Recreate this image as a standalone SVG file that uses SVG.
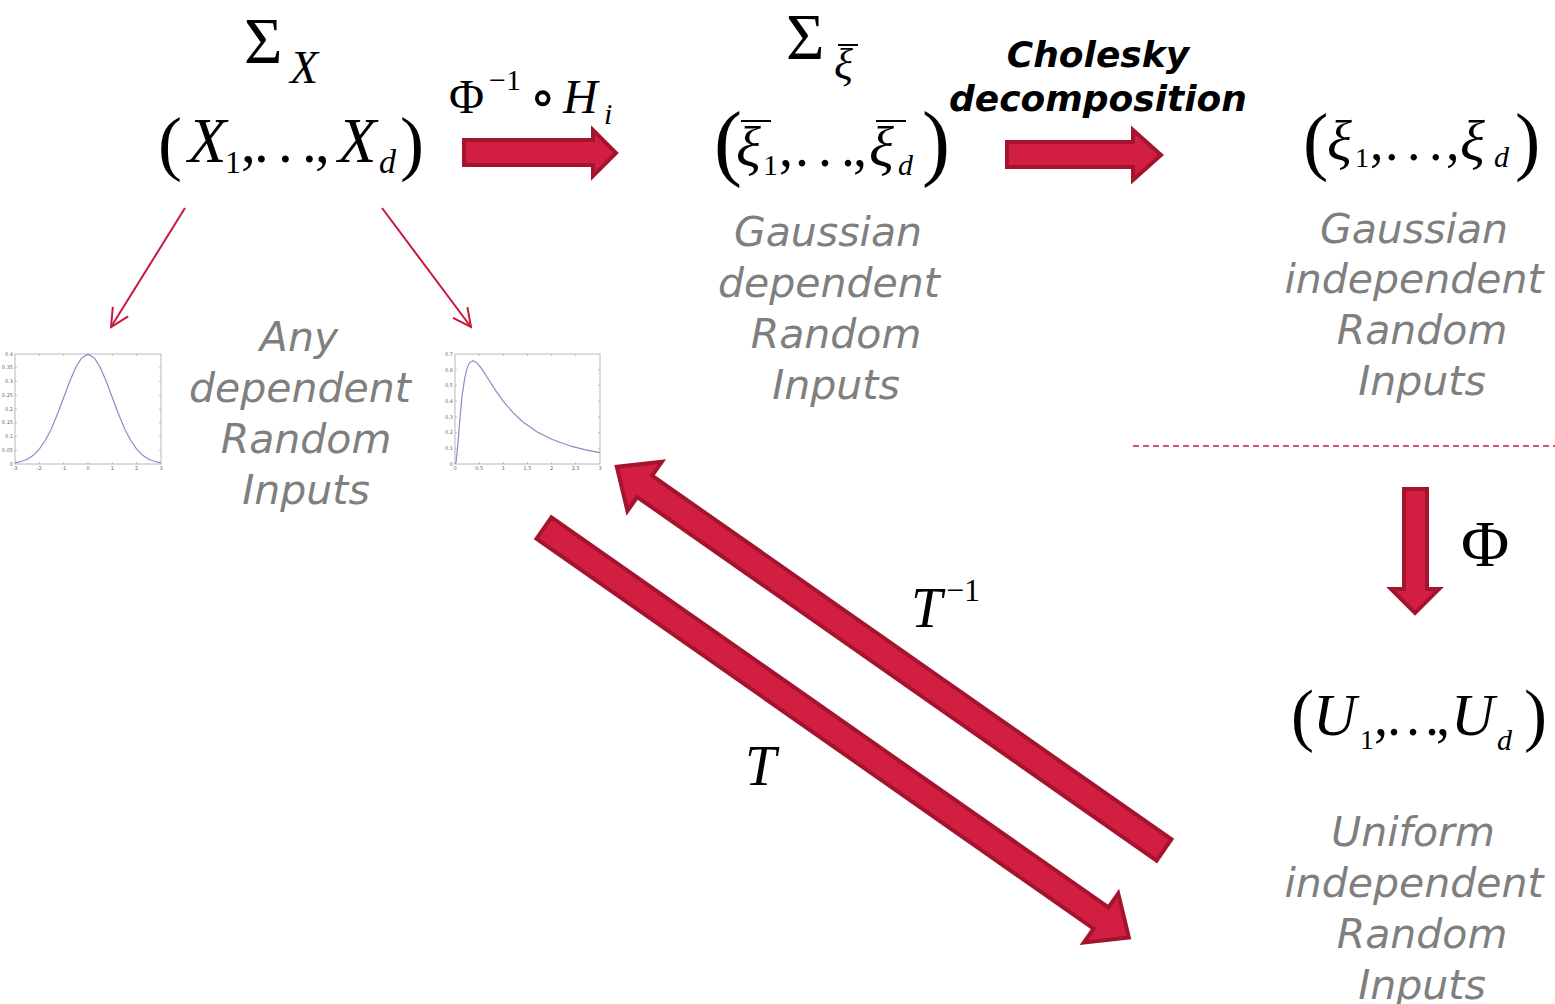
<svg xmlns="http://www.w3.org/2000/svg" width="1555" height="1004" viewBox="0 0 1555 1004">
<style>
.m{font-family:"Liberation Serif","DejaVu Serif",serif;fill:#000}
.i{font-style:italic}
.g{font-family:"DejaVu Sans","Verdana",sans-serif;font-style:oblique;font-size:41px;fill:#7f7f7f;text-anchor:middle}
.b{font-family:"DejaVu Sans","Verdana",sans-serif;font-style:oblique;font-weight:bold;font-size:36px;fill:#000;text-anchor:middle}
.blk{fill:#d21e40;stroke:#a5142f;stroke-width:4;stroke-linejoin:miter}
.thin{stroke:#c8193c;stroke-width:2;fill:none}
.bar{stroke:#000;stroke-width:2}
.frame{fill:#fff;stroke:#b8b8b8;stroke-width:1}
.curve{fill:none;stroke:#8c8cc8;stroke-width:1.2}
.tk{font-family:"DejaVu Sans",sans-serif;font-size:5px;fill:#666}
.tick{stroke:#999;stroke-width:0.6}
</style>
<defs>
<marker id="open" viewBox="-22 -12 24 24" refX="0" refY="0" markerWidth="24" markerHeight="24" markerUnits="userSpaceOnUse" orient="auto">
<path d="M-18,-9 L0,0 L-18,9" fill="none" stroke="#c8193c" stroke-width="2"/>
</marker>
</defs>
<rect width="1555" height="1004" fill="#fff"/>

<g id="connectors">
<polygon class="blk" points="464,140 593,140 593,130 616,153 593,176 593,165 464,165"/>
<polygon class="blk" points="1007,142 1133,142 1133,130 1161,155 1133,180 1133,167 1007,167"/>
<polygon class="blk" points="1404,489 1427,489 1427,589 1439,589 1415,613 1391,589 1404,589"/>
<g transform="translate(1164,850) rotate(215)">
<polygon class="blk" points="0,-13 634,-13 634,-30 668,0 634,30 634,13 0,13"/>
</g>
<g transform="translate(544,528) rotate(35)">
<polygon class="blk" points="0,-13 680,-13 680,-30 714,0 680,30 680,13 0,13"/>
</g>
<line class="thin" x1="185" y1="208" x2="111" y2="327" marker-end="url(#open)"/>
<line class="thin" x1="382" y1="208" x2="471" y2="327" marker-end="url(#open)"/>
<line x1="1133" y1="446" x2="1555" y2="446" stroke="#c8193c" stroke-width="1.5" stroke-dasharray="6,4"/>
</g>

<g id="label-phiH">
<text class="m" font-size="48" x="449" y="113">Φ</text>
<text class="m" font-size="30" x="489" y="90">−1</text>
<text class="m" font-size="56" x="529" y="116" font-family="DejaVu Serif">∘</text>
<text class="m i" font-size="48" x="563" y="113">H</text>
<text class="m i" font-size="30" x="604" y="124">i</text>
</g>

<g id="label-cholesky">
<text class="b" x="1098" y="67">Cholesky</text>
<text class="b" x="1098" y="111">decomposition</text>
</g>

<g id="label-phi">
<text class="m" font-size="66" x="1461" y="566">Φ</text>
</g>

<g id="label-Tinv">
<text class="m i" font-size="56" x="911" y="627">T</text>
<text class="m" font-size="32" x="946" y="601">−1</text>
</g>

<g id="label-T">
<text class="m i" font-size="56" x="745" y="785">T</text>
</g>

<g id="node-X">
<text class="m" font-size="66" x="244" y="63">Σ</text>
<text class="m i" font-size="46" x="290" y="83">X</text>
<text class="m" font-size="72" x="158" y="167">(</text>
<text class="m i" font-size="63" x="188" y="162">X</text>
<text class="m" font-size="32" x="225" y="173">1</text>
<text class="m" font-size="59" x="241 254 278 302 315" y="162">,...,</text>
<text class="m i" font-size="63" x="338" y="162">X</text>
<text class="m i" font-size="34" x="379" y="173">d</text>
<text class="m" font-size="72" x="400" y="167">)</text>
</g>

<g id="node-any">
<rect class="frame" x="15" y="354" width="146" height="110"/>
<path class="tick" d="M15,450.25h2M15,436.5h2M15,422.75h2M15,409h2M15,395.25h2M15,381.5h2M15,367.75h2M39.3,464v-2M63.7,464v-2M88,464v-2M112.3,464v-2M136.7,464v-2M161,450.25h-2M161,436.5h-2M161,422.75h-2M161,409h-2M161,395.25h-2M161,381.5h-2M161,367.75h-2M39.3,354v2M63.7,354v2M88,354v2M112.3,354v2M136.7,354v2"/>
<g class="tk" text-anchor="end">
<text x="13" y="466">0</text><text x="13" y="452">0.05</text><text x="13" y="438">0.1</text><text x="13" y="424">0.15</text><text x="13" y="411">0.2</text><text x="13" y="397">0.25</text><text x="13" y="383">0.3</text><text x="13" y="369">0.35</text><text x="13" y="356">0.4</text>
</g>
<g class="tk" text-anchor="middle">
<text x="15" y="470">-3</text><text x="39.3" y="470">-2</text><text x="63.7" y="470">-1</text><text x="88" y="470">0</text><text x="112.3" y="470">1</text><text x="136.7" y="470">2</text><text x="161" y="470">3</text>
</g>
<polyline class="curve" points="15,462.8 21,461.5 27.2,459.2 33.3,455.3 39.3,449.2 45.4,440.3 51.5,428.4 57.6,413.8 63.7,397.5 69.8,381.2 75.8,367.2 81.9,357.7 88,354.3 94.1,357.7 100.2,367.2 106.2,381.2 112.3,397.5 118.4,413.8 124.5,428.4 130.6,440.3 136.7,449.2 142.7,455.3 148.8,459.2 155,461.5 161,462.8"/>

<rect class="frame" x="455" y="354" width="145" height="110"/>
<path class="tick" d="M455,448.3h2M455,432.6h2M455,416.9h2M455,401.1h2M455,385.4h2M455,369.7h2M479.2,464v-2M503.3,464v-2M527.5,464v-2M551.7,464v-2M575.8,464v-2M600,448.3h-2M600,432.6h-2M600,416.9h-2M600,401.1h-2M600,385.4h-2M600,369.7h-2M479.2,354v2M503.3,354v2M527.5,354v2M551.7,354v2M575.8,354v2"/>
<g class="tk" text-anchor="end">
<text x="453" y="466">0</text><text x="453" y="450">0.1</text><text x="453" y="434">0.2</text><text x="453" y="419">0.3</text><text x="453" y="403">0.4</text><text x="453" y="387">0.5</text><text x="453" y="372">0.6</text><text x="453" y="356">0.7</text>
</g>
<g class="tk" text-anchor="middle">
<text x="455" y="470">0</text><text x="479.2" y="470">0.5</text><text x="503.3" y="470">1</text><text x="527.5" y="470">1.5</text><text x="551.7" y="470">2</text><text x="575.8" y="470">2.5</text><text x="600" y="470">3</text>
</g>
<polyline class="curve" points="455,464 456,462.5 457.4,449.9 459.8,419.8 462.2,394.9 464.7,378.2 467.1,368.1 469.5,362.8 472.9,360.6 476.7,362.7 481.6,368.7 488.8,380 496.1,391.2 503.3,401.3 513,412.6 522.7,421.7 537.2,432 551.7,439.3 571,446.2 585.5,449.8 600,452.6"/>

<text class="g" x="299" y="351">Any</text>
<text class="g" x="300" y="402">dependent</text>
<text class="g" x="306" y="453">Random</text>
<text class="g" x="306" y="504">Inputs</text>
</g>

<g id="node-xibar">
<text class="m" font-size="66" x="786" y="59">Σ</text>
<line class="bar" x1="838" y1="45" x2="858" y2="45"/>
<text class="m i" font-size="44" x="834" y="79">ξ</text>
<text class="m" font-size="84" x="714" y="170">(</text>
<line class="bar" x1="741" y1="121" x2="771" y2="121"/>
<text class="m i" font-size="58" x="736" y="166">ξ</text>
<text class="m" font-size="30" x="763" y="175">1</text>
<text class="m" font-size="56" x="779 795 818 841 853" y="166">,...,</text>
<line class="bar" x1="876" y1="121" x2="906" y2="121"/>
<text class="m i" font-size="58" x="869" y="166">ξ</text>
<text class="m i" font-size="30" x="898" y="175">d</text>
<text class="m" font-size="84" x="922" y="170">)</text>
<text class="g" x="828" y="246">Gaussian</text>
<text class="g" x="829" y="297">dependent</text>
<text class="g" x="836" y="348">Random</text>
<text class="g" x="836" y="399">Inputs</text>
</g>

<g id="node-xi">
<text class="m" font-size="76" x="1303" y="166">(</text>
<text class="m i" font-size="58" x="1327" y="160">ξ</text>
<text class="m" font-size="28" x="1355" y="167">1</text>
<text class="m" font-size="54" x="1370 1385 1407 1429 1446" y="160">,...,</text>
<text class="m i" font-size="58" x="1460" y="160">ξ</text>
<text class="m i" font-size="30" x="1494" y="167">d</text>
<text class="m" font-size="76" x="1515" y="166">)</text>
<text class="g" x="1414" y="243">Gaussian</text>
<text class="g" x="1414" y="293">independent</text>
<text class="g" x="1422" y="344">Random</text>
<text class="g" x="1422" y="395">Inputs</text>
</g>

<g id="node-U">
<text class="m" font-size="69" x="1291" y="738">(</text>
<text class="m i" font-size="60" x="1313" y="735">U</text>
<text class="m" font-size="28" x="1360" y="749">1</text>
<text class="m" font-size="56" x="1374 1387 1406 1425 1436" y="735">,...,</text>
<text class="m i" font-size="60" x="1451" y="735">U</text>
<text class="m i" font-size="30" x="1497" y="750">d</text>
<text class="m" font-size="69" x="1524" y="738">)</text>
<text class="g" x="1413" y="846">Uniform</text>
<text class="g" x="1414" y="897">independent</text>
<text class="g" x="1422" y="948">Random</text>
<text class="g" x="1422" y="999">Inputs</text>
</g>
</svg>
